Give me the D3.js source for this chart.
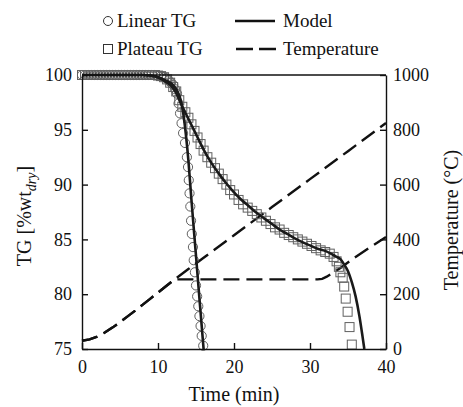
<!DOCTYPE html>
<html>
<head>
<meta charset="utf-8">
<script src="https://cdn.jsdelivr.net/npm/d3@7"></script>
<style>
  html, body { margin: 0; padding: 0; background: #fff; }
  svg { display: block; }
  svg text { font-family: "Times New Roman", "Liberation Serif", Tinos, "Noto Serif", "DejaVu Serif", Times, serif; }
</style>
</head>
<body>
<svg id="chart" width="463" height="407"></svg>
<script>
// time (min), TG (%wt dry) -- linear heating run
const linearTime = [0, 0.4, 0.8, 1.2, 1.6, 2, 2.4, 2.8, 3.2, 3.6, 4, 4.4, 4.8, 5.2, 5.6, 6, 6.4, 6.8, 7.2, 7.6, 8, 8.4, 8.8, 9.2,
  9.6, 10, 10.4, 10.8, 11.1, 11.4, 11.7, 12, 12.25, 12.5, 12.7, 12.9, 13.1, 13.3, 13.55, 13.8, 13.95, 14.05, 14.15, 14.25,
  14.35, 14.45, 14.6, 14.7, 14.85, 15, 15.15, 15.3, 15.45, 15.6, 15.75, 15.95]
const linearTG = [100, 100, 100, 100, 100, 100, 100, 100, 100, 100, 100, 100, 100, 100, 100, 100, 100, 100, 100, 100, 100, 100, 100, 100,
  100, 99.95, 99.9, 99.8, 99.7, 99.5, 99.3, 99.1, 98.7, 98.3, 97.4, 96.5, 95.6, 94.7, 93.8, 92.5, 91.6, 90.4, 89.2, 88.0,
  86.7, 85.5, 84.3, 83.1, 82.0, 80.8, 79.8, 78.9, 78.0, 77.1, 76.2, 75.3]

// plateau heating run
const plateauTime = [0, 0.4, 0.8, 1.2, 1.6, 2, 2.4, 2.8, 3.2, 3.6, 4, 4.4, 4.8, 5.2, 5.6, 6, 6.4, 6.8, 7.2, 7.6, 8, 8.4, 8.8, 9.2,
  9.6, 10, 10.4, 10.8, 11.2, 11.6, 12, 12.4, 12.8, 13.2, 13.6, 14, 14.4, 14.8, 15.2, 15.6, 16, 16.5, 17, 17.5, 18, 18.5, 19, 19.5,
  20, 20.6, 21.2, 21.8, 22.4, 23, 23.6, 24.2, 24.8, 25.4, 26, 26.6, 27.2, 27.8, 28.4, 29, 29.6, 30.2, 30.8, 31.4, 32, 32.6,
  33.1, 33.5, 33.8, 34, 34.3, 34.5, 34.7, 34.95, 35.2, 35.5]
const plateauTG = [100, 100, 100, 100, 100, 100, 100, 100, 100, 100, 100, 100, 100, 100, 100, 100, 100, 100, 100, 100, 100, 100, 100, 100,
  100, 99.95, 99.9, 99.8, 99.6, 99.3, 98.9, 98.5, 97.7, 97.1, 96.6, 96.1, 95.5, 94.9, 94.3, 93.7, 93.1, 92.5, 92.0, 91.5, 91.0, 90.5, 90.0, 89.5,
  89.1, 88.6, 88.2, 87.9, 87.6, 87.3, 87.0, 86.7, 86.4, 86.1, 85.9, 85.6, 85.4, 85.2, 85.0, 84.8, 84.6, 84.4, 84.2, 84.0, 83.85, 83.7,
  83.4, 83.0, 82.5, 82.0, 81.5, 80.7, 79.6, 78.4, 77.0, 75.4]

// model curves
const modelLinearTime = [0, 8, 9, 10, 11, 11.6, 12.2, 12.7, 13.1, 13.55, 14, 14.4, 15, 15.5, 16]
const modelLinearTG = [100, 100, 99.95, 99.8, 99.5, 99.3, 98.9, 98.3, 97.4, 95.3, 92.2, 88.6, 83.5, 79.2, 75]
const modelPlateauTime = [0, 8, 9, 10, 11, 12, 12.5, 13, 13.5, 14, 14.5, 15, 16, 17, 18, 19, 20, 21, 22, 23, 24, 25, 26, 27, 28, 29,
  30, 31, 32, 33, 33.5, 34, 34.5, 35, 35.5, 36, 36.5, 36.9, 37.15]
const modelPlateauTG = [100, 100, 99.95, 99.8, 99.4, 98.8, 98.2, 97.4, 96.7, 96.0, 95.3, 94.6, 93.2, 92.0, 91.0, 90.1, 89.3, 88.6, 88.0, 87.4,
  86.9, 86.4, 85.9, 85.5, 85.1, 84.75, 84.45, 84.15, 83.95, 83.6, 83.4, 83.2, 82.7, 82.1, 81.1, 79.8, 78.0, 76.2, 75]

// temperature programmes (degC)
const tempLinearTime = [0, 1, 2, 3, 4, 5, 6, 7, 8, 9, 10, 11, 12, 14, 16, 20, 25, 30, 35, 40]
const tempLinear = [30, 35, 45, 60, 78, 98, 119, 140, 162, 184, 206, 228, 250, 292, 333, 415, 518, 620, 722, 825]
const tempPlateauTime = [0, 1, 2, 3, 4, 5, 6, 7, 8, 9, 10, 11, 12, 12.2, 31, 31.6, 32.2, 33, 34, 36, 38, 40]
const tempPlateau = [30, 35, 45, 60, 78, 98, 119, 140, 162, 184, 206, 228, 250, 254, 254, 256, 264, 278, 296, 336, 373, 409]

const timeTicks = [0, 10, 20, 30, 40]
const tgTicks = [75, 80, 85, 90, 95, 100]
const tempTicks = [0, 200, 400, 600, 800, 1000]

const svg = d3.select('#chart')
const plotLeft = 82
const plotRight = 386
const plotTop = 75
const plotBottom = 349

const x = d3.scaleLinear().domain([0, 40]).range([plotLeft, plotRight])
const y = d3.scaleLinear().domain([75, 100]).range([plotBottom, plotTop])
const yT = d3.scaleLinear().domain([0, 1000]).range([plotBottom, plotTop])

const zip = (a, b) => a.map((v, i) => [v, b[i]])

const lineT = d3.line().x((d) => x(d[0])).y((d) => yT(d[1]))
const smoothTG = d3.line().curve(d3.curveMonotoneX).x((d) => x(d[0])).y((d) => y(d[1]))

const dash = '16,7'

// temperature
;[zip(tempLinearTime, tempLinear), zip(tempPlateauTime, tempPlateau)].forEach((pts) => {
  svg.append('path')
    .attr('d', lineT(pts))
    .attr('fill', 'none')
    .attr('stroke', '#111')
    .attr('stroke-width', 2.4)
    .attr('stroke-dasharray', dash)
})

// markers
svg.append('g')
  .selectAll('circle')
  .data(zip(linearTime, linearTG))
  .join('circle')
  .attr('cx', (d) => x(d[0]))
  .attr('cy', (d) => y(d[1]))
  .attr('r', 4.6)
  .attr('fill', 'none')
  .attr('stroke', '#606060')
  .attr('stroke-width', 1)

svg.append('g')
  .selectAll('rect')
  .data(zip(plateauTime, plateauTG))
  .join('rect')
  .attr('x', (d) => x(d[0]) - 4.5)
  .attr('y', (d) => y(d[1]) - 4.5)
  .attr('width', 9)
  .attr('height', 9)
  .attr('fill', 'none')
  .attr('stroke', '#606060')
  .attr('stroke-width', 1)

// models
;[zip(modelLinearTime, modelLinearTG), zip(modelPlateauTime, modelPlateauTG)].forEach((pts) => {
  svg.append('path')
    .attr('d', smoothTG(pts))
    .attr('fill', 'none')
    .attr('stroke', '#1a1a1a')
    .attr('stroke-width', 2.6)
})

// axes
const styleAxis = (g, size) => {
  g.attr('font-family', null).attr('font-size', size)
  g.selectAll('path, line').attr('stroke', '#111').attr('stroke-width', 1.4)
  g.selectAll('text').attr('fill', '#111')
}

svg.append('g')
  .attr('transform', `translate(0,${plotBottom})`)
  .call(d3.axisBottom(x).tickValues(timeTicks).tickSizeInner(-6).tickSizeOuter(0).tickPadding(11))
  .call((g) => styleAxis(g, 18))

svg.append('g')
  .attr('transform', `translate(${plotLeft},0)`)
  .call(d3.axisLeft(y).tickValues(tgTicks).tickSizeInner(-6).tickSizeOuter(0).tickPadding(10))
  .call((g) => styleAxis(g, 18))

svg.append('g')
  .attr('transform', `translate(${plotRight},0)`)
  .call(d3.axisRight(yT).tickValues(tempTicks).tickFormat(d3.format('d'))
    .tickSizeInner(-6).tickSizeOuter(0).tickPadding(7))
  .call((g) => styleAxis(g, 18))

svg.append('line')
  .attr('x1', plotLeft).attr('x2', plotRight)
  .attr('y1', plotTop).attr('y2', plotTop)
  .attr('stroke', '#111').attr('stroke-width', 1.4)

// axis titles
svg.append('text')
  .attr('x', (plotLeft + plotRight) / 2)
  .attr('y', 401)
  .attr('text-anchor', 'middle')
  .attr('font-size', 20)
  .attr('fill', '#111')
  .text('Time (min)')

const yl = svg.append('text')
  .attr('transform', `translate(31,${(plotTop + plotBottom) / 2 + 4}) rotate(-90)`)
  .attr('text-anchor', 'middle')
  .attr('font-size', 20)
  .attr('fill', '#111')
yl.append('tspan').text('TG [%wt')
yl.append('tspan').attr('font-style', 'italic').attr('font-size', 14).attr('dy', 5).text('dry')
yl.append('tspan').attr('dy', -5).text(']')

svg.append('text')
  .attr('transform', `translate(458,${(plotTop + plotBottom) / 2 + 8}) rotate(-90)`)
  .attr('text-anchor', 'middle')
  .attr('font-size', 20)
  .attr('fill', '#111')
  .text('Temperature (°C)')

// legend
const legend = svg.append('g').attr('font-size', 19).attr('fill', '#111')
legend.append('circle').attr('cx', 108).attr('cy', 21).attr('r', 4.5)
  .attr('fill', 'none').attr('stroke', '#333').attr('stroke-width', 1)
legend.append('rect').attr('x', 103.5).attr('y', 44.5).attr('width', 9).attr('height', 9)
  .attr('fill', 'none').attr('stroke', '#333').attr('stroke-width', 1)
legend.append('text').attr('x', 117).attr('y', 27).text('Linear TG')
legend.append('text').attr('x', 117).attr('y', 55).text('Plateau TG')
legend.append('line').attr('x1', 235).attr('x2', 275).attr('y1', 21).attr('y2', 21)
  .attr('stroke', '#111').attr('stroke-width', 2.6)
legend.append('line').attr('x1', 236).attr('x2', 276).attr('y1', 49).attr('y2', 49)
  .attr('stroke', '#111').attr('stroke-width', 2.6).attr('stroke-dasharray', '17,6')
legend.append('text').attr('x', 283).attr('y', 27).text('Model')
legend.append('text').attr('x', 283).attr('y', 55).text('Temperature')
</script>
</body>
</html>
